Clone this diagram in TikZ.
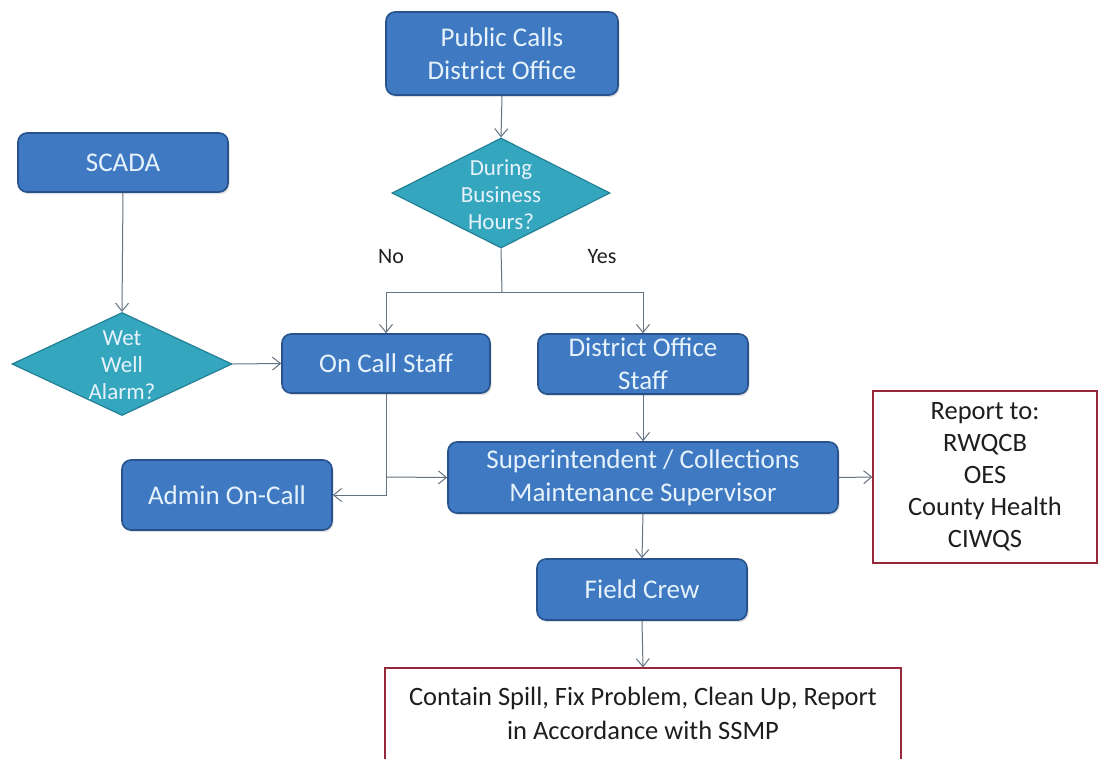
\documentclass[tikz,border=0pt]{standalone}
\usepackage{fontspec}
\setmainfont{Carlito}
\usetikzlibrary{arrows.meta,shapes.geometric,shadows}
\definecolor{boxfill}{RGB}{62,121,193}
\definecolor{boxline}{RGB}{40,82,140}
\definecolor{dfill}{RGB}{52,166,190}
\definecolor{dline}{RGB}{36,128,150}
\definecolor{btext}{RGB}{230,242,252}
\definecolor{conn}{RGB}{100,115,130}
\definecolor{redline}{RGB}{150,40,60}
\definecolor{dtext}{RGB}{30,30,30}
\tikzset{
  bluebox/.style={draw=boxline, line width=1.6pt, fill=boxfill, rounded corners=9pt,
    text=btext, align=center, inner sep=0pt,
    font=\fontsize{27}{33}\selectfont,
    drop shadow={shadow xshift=1.5pt, shadow yshift=-2pt, opacity=0.25}},
  dia/.style={draw=dline, line width=1.2pt, fill=dfill, diamond, inner sep=0pt},
  diatext/.style={text=btext, align=center, font=\fontsize{23}{27}\selectfont, inner sep=0pt},
  redbox/.style={draw=redline, line width=1.2pt, fill=white, align=center, text=dtext, inner sep=0pt},
  lbl/.style={text=dtext, font=\fontsize{22}{24}\selectfont, inner sep=0pt},
  arr/.style={draw=conn, line width=1pt, -{Straight Barb[length=8pt,width=13pt]}},
  ln/.style={draw=conn, line width=1pt}
}
\begin{document}
\begin{tikzpicture}[x=1pt,y=-1pt]
\clip (0,0) rectangle (1099,758);
\fill[white] (0,0) rectangle (1099,758);
% boxes
\node[bluebox, minimum width=232pt, minimum height=83pt] (pub) at (502,53.5) {Public Calls\\District Office};
\node[dia, minimum width=218pt, minimum height=110pt] (dbh) at (501,193) {};
\node[diatext] (dbht) at (501,195) {During\\Business\\Hours?};
\node[bluebox, minimum width=210pt, minimum height=59pt] (scada) at (123,162.5) {SCADA};
\node[dia, minimum width=220pt, minimum height=103pt] (wet) at (122,364) {};
\node[diatext] (wett) at (122,365) {Wet\\Well\\Alarm?};
\node[bluebox, minimum width=208pt, minimum height=59pt] (oncall) at (386,363.5) {On Call Staff};
\node[bluebox, minimum width=210pt, minimum height=60pt] (dos) at (643,364) {District Office\\Staff};
\node[bluebox, minimum width=210pt, minimum height=70pt] (admin) at (227,495) {Admin On-Call};
\node[bluebox, minimum width=390pt, minimum height=71pt] (sup) at (643,477.5) {Superintendent / Collections\\Maintenance Supervisor};
\node[bluebox, minimum width=210pt, minimum height=61pt] (field) at (642,589.5) {Field Crew};
\node[redbox, font=\fontsize{26.5}{32}\selectfont, minimum width=224pt, minimum height=172pt] (report) at (985,477) {Report to:\\RWQCB\\OES\\County Health\\CIWQS};
\node[redbox, font=\fontsize{26.5}{34}\selectfont, minimum width=516pt, minimum height=110pt] (spill) at (643,723) {Contain Spill, Fix Problem, Clean Up, Report\\in Accordance with SSMP\\[-14pt]};
% labels
\node[lbl] (no) at (391,257) {No};
\node[lbl] (yes) at (602,257) {Yes};
% connectors
\coordinate (j) at (502,292);
\coordinate (b) at (387,477);
\draw[arr] (pub.south) -- (dbh.north);
\draw[ln] (dbh.south) -- (j);
\draw[arr] (j) -| (oncall.north);
\draw[arr] (j) -| (dos.north);
\draw[arr] (scada.south) -- (wet.north);
\draw[arr] (wet.east) -- (oncall.west);
\draw[arr] (oncall.south) |- (admin.east);
\draw[arr] (b) -- (sup.west);
\draw[arr] (dos.south) -- (sup.north);
\draw[arr] (sup.east) -- (report.west);
\draw[arr] (sup.south) -- (field.north);
\draw[arr] (field.south) -- (spill.north);
\end{tikzpicture}
\end{document}
